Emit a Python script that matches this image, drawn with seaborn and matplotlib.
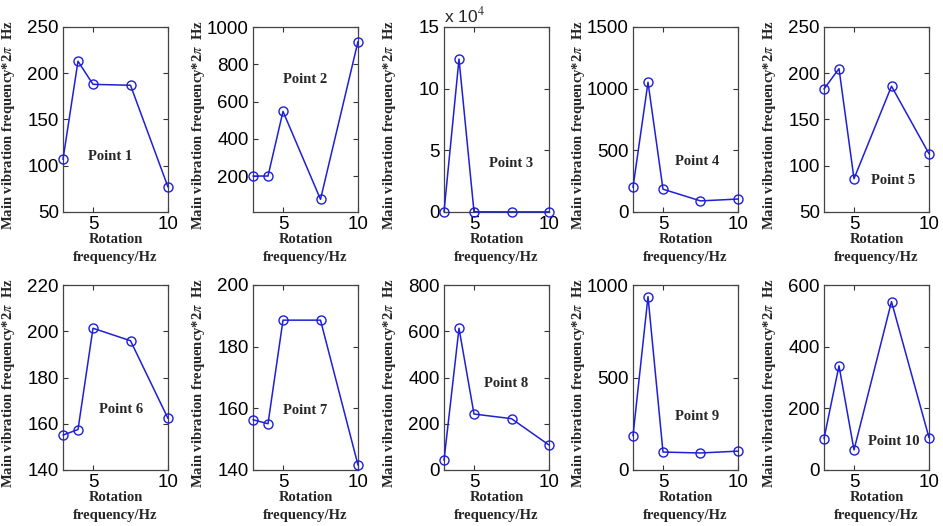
import matplotlib
matplotlib.use("Agg")
import matplotlib.pyplot as plt
import seaborn as sns
import pandas as pd

# ---- data ----
rotation_hz = [3, 4, 5, 7.5, 10]
point1 = [107, 213, 188, 187, 77]
point2 = [200, 200, 547, 75, 922]
point3 = [200, 124000, 150, 100, 110]
point4 = [200, 1052, 185, 90, 105]
point5 = [183, 205, 86, 186, 113]
point6 = [155.1, 157.5, 201.3, 195.9, 162.3]
point7 = [156.3, 155.0, 188.6, 188.6, 141.6]
point8 = [42, 613, 242, 222, 108]
point9 = [185, 937, 97, 92, 102]
point10 = [102, 338, 65, 546, 105]
series = [point1, point2, point3, point4, point5,
          point6, point7, point8, point9, point10]
names = [f"Point {i}" for i in range(1, 11)]

ylims = [(50, 250), (7, 1000), (0, 150000), (0, 1500), (50, 250),
         (140, 220), (140, 200), (0, 800), (0, 1000), (0, 600)]
yticks = [[50, 100, 150, 200, 250], [200, 400, 600, 800, 1000],
          [0, 50000, 100000, 150000], [0, 500, 1000, 1500],
          [50, 100, 150, 200, 250], [140, 160, 180, 200, 220],
          [140, 160, 180, 200], [0, 200, 400, 600, 800],
          [0, 500, 1000], [0, 200, 400, 600]]
label_pos = [(6.17, 110), (6.48, 719), (7.49, 39200), (7.28, 413), (7.64, 84),
             (6.89, 166), (6.48, 159.4), (7.11, 376), (7.28, 291), (7.62, 94)]

sns.set_style("ticks")
plt.rcParams["mathtext.fontset"] = "stix"

W, H = 943, 526
fig = plt.figure(figsize=(W / 100, H / 100), dpi=100)

lefts = [63, 253, 444, 633, 824]
tops = [27, 285]
aw, ah = 105, 185

serif = "Liberation Serif"
sans = "Liberation Sans"
blue = "#1f1fd6"

for i, (vals, name) in enumerate(zip(series, names)):
    r, c = divmod(i, 5)
    l = lefts[c]
    t = tops[r]
    ax = fig.add_axes([l / W, 1 - (t + ah) / H, aw / W, ah / H])
    df = pd.DataFrame({"x": rotation_hz, "y": vals})
    sns.lineplot(data=df, x="x", y="y", ax=ax, color=blue, lw=1.1,
                 marker="o", markersize=6.5, markerfacecolor="none",
                 markeredgecolor=blue, markeredgewidth=1.0, clip_on=False,
                 zorder=5)
    ax.set_xlim(3, 10)
    ax.set_ylim(*ylims[i])
    ax.set_xticks([5, 10])
    ax.set_yticks(yticks[i])
    if i == 2:
        ax.set_yticklabels(["0", "5", "10", "15"])
        ax.text(0.0, 1.01, r"x 10$^{4}$", transform=ax.transAxes,
                fontsize=12.5, family=sans, ha="left", va="bottom")
    ax.tick_params(direction="in", length=3.5, width=0.8, top=True, right=True,
                   labelsize=13.5, pad=3, colors="#333333", labelcolor="black")
    for lab in ax.get_xticklabels() + ax.get_yticklabels():
        lab.set_family(sans)
    for sp in ax.spines.values():
        sp.set_color("#444444")
        sp.set_linewidth(0.9)
    ax.set_xlabel("Rotation\nfrequency/Hz", family=serif, fontweight="bold",
                  fontsize=10.5, labelpad=0, linespacing=1.45)
    ax.set_ylabel(r"Main vibration frequency*2$\pi$  Hz", family=serif,
                  fontweight="bold", fontsize=10.5)
    ax.yaxis.set_label_coords(-46 / aw, 0.47)
    ax.text(label_pos[i][0], label_pos[i][1], name, family=serif,
            fontweight="bold", fontsize=10.5, ha="center", va="center")

fig.savefig("out.png", dpi=100)
